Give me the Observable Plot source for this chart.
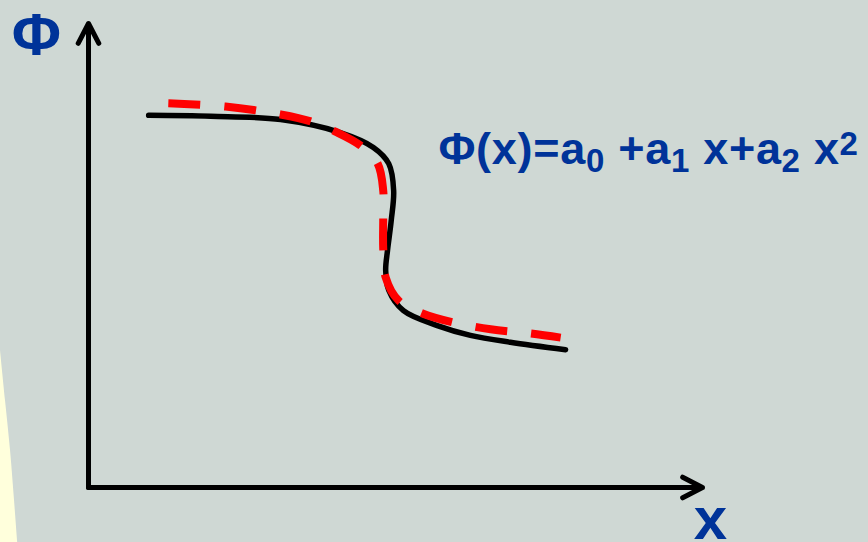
<!DOCTYPE html>
<html><head><meta charset="utf-8">
<script src="https://cdn.jsdelivr.net/npm/d3@7"></script>
<script src="https://cdn.jsdelivr.net/npm/@observablehq/plot@0.6"></script>
<style>html,body{margin:0;padding:0;background:#cfd8d4;overflow:hidden}</style>
</head><body><div id="chart"></div>
<script>
// Solid (true) Φ(x) curve
const solidX = [0.98, 1.99, 3.13, 4.10, 4.64, 4.89, 4.97, 4.93, 4.87, 4.84, 4.89, 5.13, 5.68, 6.22, 6.87, 7.77];
const solidY = [8.02, 8.00, 7.93, 7.65, 7.33, 6.98, 6.40, 5.75, 5.11, 4.68, 4.25, 3.81, 3.49, 3.28, 3.13, 2.97];
// Dashed fit curve
const fitX = [1.30, 2.23, 3.13, 3.62, 4.02, 4.43, 4.71, 4.80, 4.80, 4.80, 4.84, 5.05, 5.44, 5.93, 6.55, 7.20, 7.69];
const fitY = [8.28, 8.21, 8.04, 7.89, 7.67, 7.37, 6.98, 6.40, 5.80, 5.15, 4.53, 4.03, 3.75, 3.56, 3.41, 3.32, 3.23];
// Pale background shape at left
const shapeY = [2.95, 1.875, 0.80, -0.28, -1.25];
const shapeX = [-1.433, -1.352, -1.27, -1.205, -1.15];
// Axes
const axisFrom = [[0, 0], [0, 0]];
const axisTo = [[0, 10], [10, 0]];
// Labels
const labelText = ["Φ", "x"];
const labelX = [-0.85, 10.13];
const labelY = [9.33, -1.12];
const labelSize = [60, 60];
const formulaParts = ["Φ(x)=a", "0", " +a", "1", " x+a", "2", " x", "2"];
const formulaRole = ["n", "sub", "n", "sub", "n", "sub", "n", "sup"];
const formulaPos = [5.7, 6.97];

const blue = "#003399";
const shape = shapeY.map((y, i) => ({y, x2: shapeX[i], x1: -1.5}));
const solid = solidX.map((x, i) => ({x, y: solidY[i]}));
const fit = fitX.map((x, i) => ({x, y: fitY[i]}));
const axes = axisFrom.map((f, i) => ({x1: f[0], y1: f[1], x2: axisTo[i][0], y2: axisTo[i][1]}));
const labels = labelText.map((t, i) => ({t, x: labelX[i], y: labelY[i], s: labelSize[i]}));
const formulaString = formulaParts.join("");

const plot = Plot.plot({
  width: 868, height: 542,
  marginTop: 0, marginRight: 0, marginBottom: 0, marginLeft: 0,
  style: {background: "#cfd8d4", fontFamily: "Liberation Sans, Arial, sans-serif", overflow: "hidden"},
  x: {domain: [0, 10], range: [88, 702], axis: null},
  y: {domain: [0, 10], range: [487, 23], axis: null},
  marks: [
    Plot.areaX(shape, {x1: "x1", x2: "x2", y: "y", fill: "#ffffdc", curve: "catmull-rom"}),
    Plot.arrow(axes, {x1: "x1", y1: "y1", x2: "x2", y2: "y2", stroke: "black", strokeWidth: 5, headLength: 6.7, headAngle: 55}),
    Plot.line(solid, {x: "x", y: "y", stroke: "black", strokeWidth: 5.5, curve: "catmull-rom"}),
    Plot.line(fit, {x: "x", y: "y", stroke: "#ff0000", strokeWidth: 8, strokeDasharray: "32,24", strokeLinecap: "butt", curve: "catmull-rom"}),
    Plot.text(labels, {x: "x", y: "y", text: "t", fontSize: "s", fill: blue, fontWeight: "bold", textAnchor: "middle", lineAnchor: "bottom"}),
    Plot.text([formulaString], {x: () => formulaPos[0], y: () => formulaPos[1], text: d => d, fontSize: 45, fill: blue, fontWeight: "bold", textAnchor: "start", lineAnchor: "bottom"})
  ]
});
document.getElementById("chart").appendChild(plot);

// rich formatting for sub/superscripts
d3.select(plot).selectAll("text").each(function () {
  if (this.textContent !== formulaString) return;
  const t = d3.select(this);
  t.text(null).style("letter-spacing", "0.7px");
  let shift = 0;
  formulaParts.forEach((p, i) => {
    const role = formulaRole[i];
    const target = role === "sub" ? 8 : role === "sup" ? -9 : 0;
    const ts = t.append("tspan").text(p).attr("dy", target - shift);
    if (role !== "n") ts.attr("font-size", 33);
    shift = target;
  });
});
</script></body></html>
